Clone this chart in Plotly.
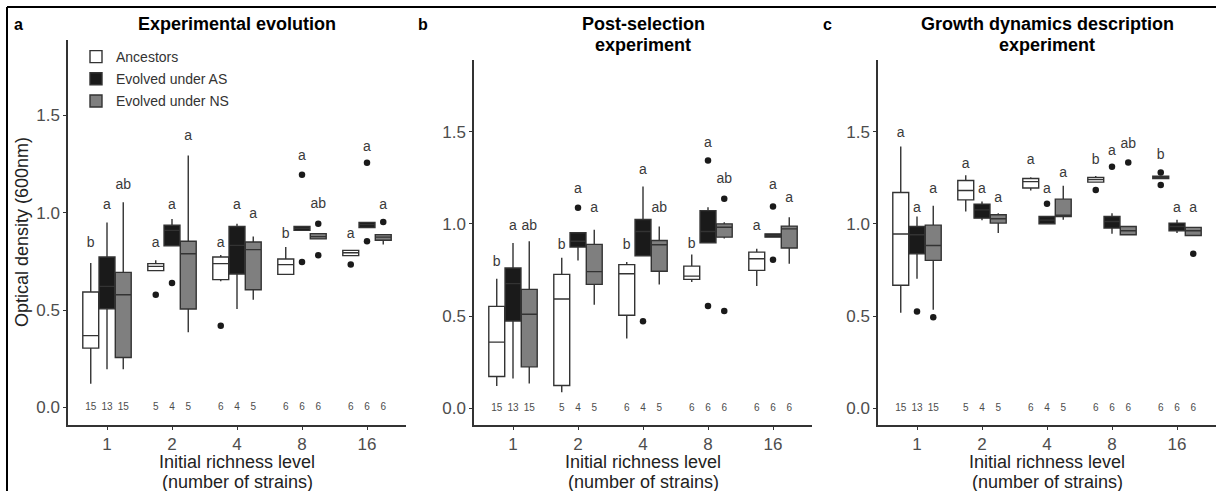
import plotly.graph_objects as go

W, H = 1216, 491

# ---------------- data ----------------
richness = ['1', '2', '4', '8', '16']
groups = ['Ancestors', 'Evolved under AS', 'Evolved under NS']
panel_titles = ['Experimental evolution', 'Post-selection<br>experiment',
                'Growth dynamics description<br>experiment']
panel_letters = ['a', 'b', 'c']

# Panel a: Experimental evolution
a_anc_lo = [0.122, 0.703, 0.648, 0.684, 0.780]
a_anc_q1 = [0.305, 0.703, 0.657, 0.684, 0.780]
a_anc_md = [0.369, 0.725, 0.739, 0.734, 0.795]
a_anc_q3 = [0.593, 0.739, 0.773, 0.763, 0.807]
a_anc_hi = [0.742, 0.756, 0.784, 0.825, 0.807]
a_as_lo = [0.197, 0.831, 0.506, 0.910, 0.925]
a_as_q1 = [0.507, 0.831, 0.686, 0.910, 0.925]
a_as_md = [0.622, 0.910, 0.833, 0.920, 0.940]
a_as_q3 = [0.773, 0.936, 0.930, 0.930, 0.951]
a_as_hi = [0.951, 0.969, 0.944, 0.930, 0.951]
a_ns_lo = [0.197, 0.386, 0.554, 0.866, 0.837]
a_ns_q1 = [0.257, 0.506, 0.605, 0.866, 0.859]
a_ns_md = [0.579, 0.790, 0.811, 0.878, 0.875]
a_ns_q3 = [0.694, 0.854, 0.850, 0.893, 0.888]
a_ns_hi = [1.054, 1.294, 0.879, 0.893, 0.888]
a_anc_out_x = ['2', '4', '16']
a_anc_out_y = [0.579, 0.420, 0.734]
a_as_out_x = ['2', '8', '8', '16', '16']
a_as_out_y = [0.640, 1.196, 0.747, 1.257, 0.854]
a_ns_out_x = ['8', '8', '16']
a_ns_out_y = [0.944, 0.782, 0.953]
a_anc_let = ['b', 'a', 'a', 'b', 'a']
a_anc_let_y = [0.84, 0.84, 0.84, 0.891, 0.888]
a_as_let = ['a', 'a', 'a', 'a', 'a']
a_as_let_y = [1.04, 1.04, 1.04, 1.29, 1.337]
a_ns_let = ['ab', 'a', 'a', 'ab', 'a']
a_ns_let_y = [1.14, 1.39, 0.991, 1.042, 1.04]

# Panel b: Post-selection experiment
b_anc_lo = [0.121, 0.088, 0.379, 0.685, 0.663]
b_anc_q1 = [0.173, 0.124, 0.505, 0.699, 0.748]
b_anc_md = [0.359, 0.593, 0.730, 0.717, 0.811]
b_anc_q3 = [0.553, 0.726, 0.779, 0.771, 0.847]
b_anc_hi = [0.703, 0.817, 0.793, 0.834, 0.865]
b_as_lo = [0.162, 0.802, 0.827, 0.898, 0.928]
b_as_q1 = [0.474, 0.874, 0.827, 0.898, 0.928]
b_as_md = [0.676, 0.906, 0.959, 0.959, 0.937]
b_as_q3 = [0.761, 0.952, 1.024, 1.072, 0.946]
b_as_hi = [0.896, 0.952, 1.202, 1.090, 0.946]
b_ns_lo = [0.135, 0.562, 0.671, 0.920, 0.784]
b_ns_q1 = [0.225, 0.672, 0.743, 0.928, 0.869]
b_ns_md = [0.510, 0.741, 0.887, 0.982, 0.973]
b_ns_q3 = [0.645, 0.889, 0.910, 1.000, 0.988]
b_ns_hi = [0.906, 0.968, 0.986, 1.009, 1.036]
b_anc_out_x = []
b_anc_out_y = []
b_as_out_x = ['2', '4', '8', '8', '16', '16']
b_as_out_y = [1.087, 0.472, 1.343, 0.555, 1.094, 0.806]
b_ns_out_x = ['8', '8']
b_ns_out_y = [1.136, 0.528]
b_anc_let = ['b', 'b', 'b', 'b', 'a']
b_anc_let_y = [0.788, 0.883, 0.883, 0.887, 0.986]
b_as_let = ['a', 'a', 'a', 'a', 'a']
b_as_let_y = [0.986, 1.184, 1.289, 1.437, 1.208]
b_ns_let = ['ab', 'a', 'ab', 'ab', 'a']
b_ns_let_y = [0.986, 1.081, 1.085, 1.238, 1.136]

# Panel c: Growth dynamics description experiment
c_anc_lo = [0.518, 1.067, 1.181, 1.226, 1.245]
c_anc_q1 = [0.667, 1.130, 1.194, 1.226, 1.245]
c_anc_md = [0.945, 1.181, 1.229, 1.240, 1.251]
c_anc_q3 = [1.170, 1.235, 1.246, 1.251, 1.258]
c_anc_hi = [1.419, 1.264, 1.253, 1.260, 1.258]
c_as_lo = [0.703, 1.020, 1.000, 0.946, 0.950]
c_as_q1 = [0.838, 1.031, 1.000, 0.977, 0.963]
c_as_md = [0.941, 1.076, 1.020, 1.013, 0.986]
c_as_q3 = [0.986, 1.107, 1.040, 1.040, 1.004]
c_as_hi = [1.040, 1.121, 1.040, 1.058, 1.022]
c_ns_lo = [0.535, 0.950, 1.022, 0.941, 0.937]
c_ns_q1 = [0.802, 1.004, 1.040, 0.941, 0.937]
c_ns_md = [0.883, 1.028, 1.047, 0.963, 0.963]
c_ns_q3 = [0.993, 1.049, 1.134, 0.986, 0.981]
c_ns_hi = [1.098, 1.058, 1.206, 0.986, 0.981]
c_anc_out_x = ['8', '16', '16']
c_anc_out_y = [1.184, 1.278, 1.211]
c_as_out_x = ['1', '4', '8']
c_as_out_y = [0.525, 1.109, 1.310]
c_ns_out_x = ['1', '8', '16']
c_ns_out_y = [0.494, 1.332, 0.838]
c_anc_let = ['a', 'a', 'a', 'b', 'b']
c_anc_let_y = [1.491, 1.32, 1.341, 1.341, 1.368]
c_as_let = ['a', 'a', 'a', 'a', 'a']
c_as_let_y = [1.085, 1.188, 1.188, 1.392, 1.085]
c_ns_let = ['a', 'a', 'a', 'ab', 'a']
c_ns_let_y = [1.188, 1.139, 1.271, 1.432, 1.085]

# sample sizes (same in all panels)
n_anc = [15, 5, 6, 6, 6]
n_as = [13, 4, 4, 6, 6]
n_ns = [15, 5, 5, 6, 6]

# ---------------- styling ----------------
fills = ['#ffffff', '#1a1a1a', '#7f7f7f']
offsets = [-0.25, 0.0, 0.25]
box_w = 0.245
edge = '#333333'
FONT = 'Liberation Sans, Arial, sans-serif'

panels = [
    dict(stats=[(a_anc_lo, a_anc_q1, a_anc_md, a_anc_q3, a_anc_hi),
                (a_as_lo, a_as_q1, a_as_md, a_as_q3, a_as_hi),
                (a_ns_lo, a_ns_q1, a_ns_md, a_ns_q3, a_ns_hi)],
         outs=[(a_anc_out_x, a_anc_out_y), (a_as_out_x, a_as_out_y), (a_ns_out_x, a_ns_out_y)],
         lets=[(a_anc_let, a_anc_let_y), (a_as_let, a_as_let_y), (a_ns_let, a_ns_let_y)]),
    dict(stats=[(b_anc_lo, b_anc_q1, b_anc_md, b_anc_q3, b_anc_hi),
                (b_as_lo, b_as_q1, b_as_md, b_as_q3, b_as_hi),
                (b_ns_lo, b_ns_q1, b_ns_md, b_ns_q3, b_ns_hi)],
         outs=[(b_anc_out_x, b_anc_out_y), (b_as_out_x, b_as_out_y), (b_ns_out_x, b_ns_out_y)],
         lets=[(b_anc_let, b_anc_let_y), (b_as_let, b_as_let_y), (b_ns_let, b_ns_let_y)]),
    dict(stats=[(c_anc_lo, c_anc_q1, c_anc_md, c_anc_q3, c_anc_hi),
                (c_as_lo, c_as_q1, c_as_md, c_as_q3, c_as_hi),
                (c_ns_lo, c_ns_q1, c_ns_md, c_ns_q3, c_ns_hi)],
         outs=[(c_anc_out_x, c_anc_out_y), (c_as_out_x, c_as_out_y), (c_ns_out_x, c_ns_out_y)],
         lets=[(c_anc_let, c_anc_let_y), (c_as_let, c_as_let_y), (c_ns_let, c_ns_let_y)]),
]
counts = [n_anc, n_as, n_ns]

pos = {c: i + 1 for i, c in enumerate(richness)}

fig = go.Figure()
for p, pan in enumerate(panels):
    xa = 'x' if p == 0 else f'x{p+1}'
    ya = 'y' if p == 0 else f'y{p+1}'
    for g in range(3):
        lo, q1, md, q3, hi = pan['stats'][g]
        xs = [pos[c] + offsets[g] for c in richness]
        fig.add_trace(go.Box(
            x=xs, lowerfence=lo, q1=q1, median=md, q3=q3, upperfence=hi,
            width=box_w, whiskerwidth=0, fillcolor=fills[g],
            line=dict(color=edge, width=1.4), name=groups[g],
            legendgroup=groups[g], showlegend=(p == 0),
            xaxis=xa, yaxis=ya, hoverinfo='skip'))
        ox, oy = pan['outs'][g]
        if ox:
            fig.add_trace(go.Scatter(
                x=[pos[c] + offsets[g] for c in ox], y=oy, mode='markers',
                marker=dict(color='#1a1a1a', size=6.5), showlegend=False,
                xaxis=xa, yaxis=ya, hoverinfo='skip'))
        lt, ly = pan['lets'][g]
        fig.add_trace(go.Scatter(
            x=xs, y=ly, text=lt, mode='text',
            textfont=dict(family=FONT, size=14, color='#3a3a3a'),
            showlegend=False, xaxis=xa, yaxis=ya, hoverinfo='skip'))
        fig.add_trace(go.Scatter(
            x=xs, y=[0] * len(xs), text=[str(n) for n in counts[g]], mode='text',
            textfont=dict(family=FONT, size=10, color='#4d4d4d'),
            showlegend=False, xaxis=xa, yaxis=ya, hoverinfo='skip'))

# axes domains in pixels
x_dom = [(68, 406), (474, 812), (878, 1217)]
y_top = [40, 60, 60]
y_bot = 425

layout = dict(
    width=W, height=H, margin=dict(l=0, r=0, t=0, b=0),
    paper_bgcolor='white', plot_bgcolor='white',
    font=dict(family=FONT, color='#222222'),
    boxmode='overlay',
    legend=dict(x=76 / W, y=1 - 41 / H, xanchor='left', yanchor='top',
                bgcolor='rgba(0,0,0,0)', font=dict(family=FONT, size=14, color='#333333'),
                tracegroupgap=1),
)
for p in range(3):
    xk = 'xaxis' if p == 0 else f'xaxis{p+1}'
    yk = 'yaxis' if p == 0 else f'yaxis{p+1}'
    ya = 'y' if p == 0 else f'y{p+1}'
    xa = 'x' if p == 0 else f'x{p+1}'
    x0, x1 = x_dom[p]
    layout[xk] = dict(
        domain=[x0 / W, min(x1 / W, 1.0)], anchor=ya, range=[0.4, 5.6],
        tickmode='array', tickvals=[pos[c] for c in richness], ticktext=richness,
        showline=True, linecolor='#333333', linewidth=1.5, showgrid=False, zeroline=False,
        ticks='outside', ticklen=3, tickcolor='#333333', tickwidth=1.2,
        tickfont=dict(family=FONT, size=17, color='#4d4d4d'), fixedrange=True)
    layout[yk] = dict(
        domain=[1 - y_bot / H, 1 - y_top[p] / H], anchor=xa, range=[-0.09, 1.888],
        tickmode='array', tickvals=[0, 0.5, 1.0, 1.5], ticktext=['0.0', '0.5', '1.0', '1.5'],
        showline=True, linecolor='#333333', linewidth=1.5, showgrid=False, zeroline=False,
        ticks='outside', ticklen=3, tickcolor='#333333', tickwidth=1.2,
        tickfont=dict(family=FONT, size=17, color='#4d4d4d'), fixedrange=True)
fig.update_layout(**layout)

ann = []
title_cx = [237, 643, 1047]
letter_x = [18, 423, 827]
for p in range(3):
    ann.append(dict(x=letter_x[p] / W, y=1 - 24 / H, xref='paper', yref='paper',
                    text=f'<b>{panel_letters[p]}</b>', showarrow=False,
                    font=dict(family=FONT, size=16, color='black'),
                    xanchor='center', yanchor='middle'))
    lines = panel_titles[p].split('<br>')
    for i, ln in enumerate(lines):
        ann.append(dict(x=title_cx[p] / W, y=1 - (24 + 21 * i) / H, xref='paper', yref='paper',
                        text=f'<b>{ln}</b>', showarrow=False,
                        font=dict(family=FONT, size=18, color='black'),
                        xanchor='center', yanchor='middle'))
    cx = (x_dom[p][0] + min(x_dom[p][1], W)) / 2
    ann.append(dict(x=cx / W, y=1 - 462 / H, xref='paper', yref='paper',
                    text='Initial richness level', showarrow=False,
                    font=dict(family=FONT, size=18, color='#222222'),
                    xanchor='center', yanchor='middle'))
    ann.append(dict(x=cx / W, y=1 - 482 / H, xref='paper', yref='paper',
                    text='(number of strains)', showarrow=False,
                    font=dict(family=FONT, size=18, color='#222222'),
                    xanchor='center', yanchor='middle'))
ann.append(dict(x=22 / W, y=1 - 232 / H, xref='paper', yref='paper',
                text='Optical density (600nm)', showarrow=False, textangle=-90,
                font=dict(family=FONT, size=18, color='#222222'),
                xanchor='center', yanchor='middle'))
fig.update_layout(annotations=ann)

# outer frame (top and left edges of the figure border)
fig.add_shape(type='line', xref='paper', yref='paper', x0=7 / W, x1=1.0,
              y0=1 - 7 / H, y1=1 - 7 / H, line=dict(color='black', width=2))
fig.add_shape(type='line', xref='paper', yref='paper', x0=7 / W, x1=7 / W,
              y0=0, y1=1 - 7 / H, line=dict(color='black', width=2))

fig.write_html('out.html', config={'displayModeBar': False},
               post_script="document.body.style.margin='0';document.body.style.padding='0';")
